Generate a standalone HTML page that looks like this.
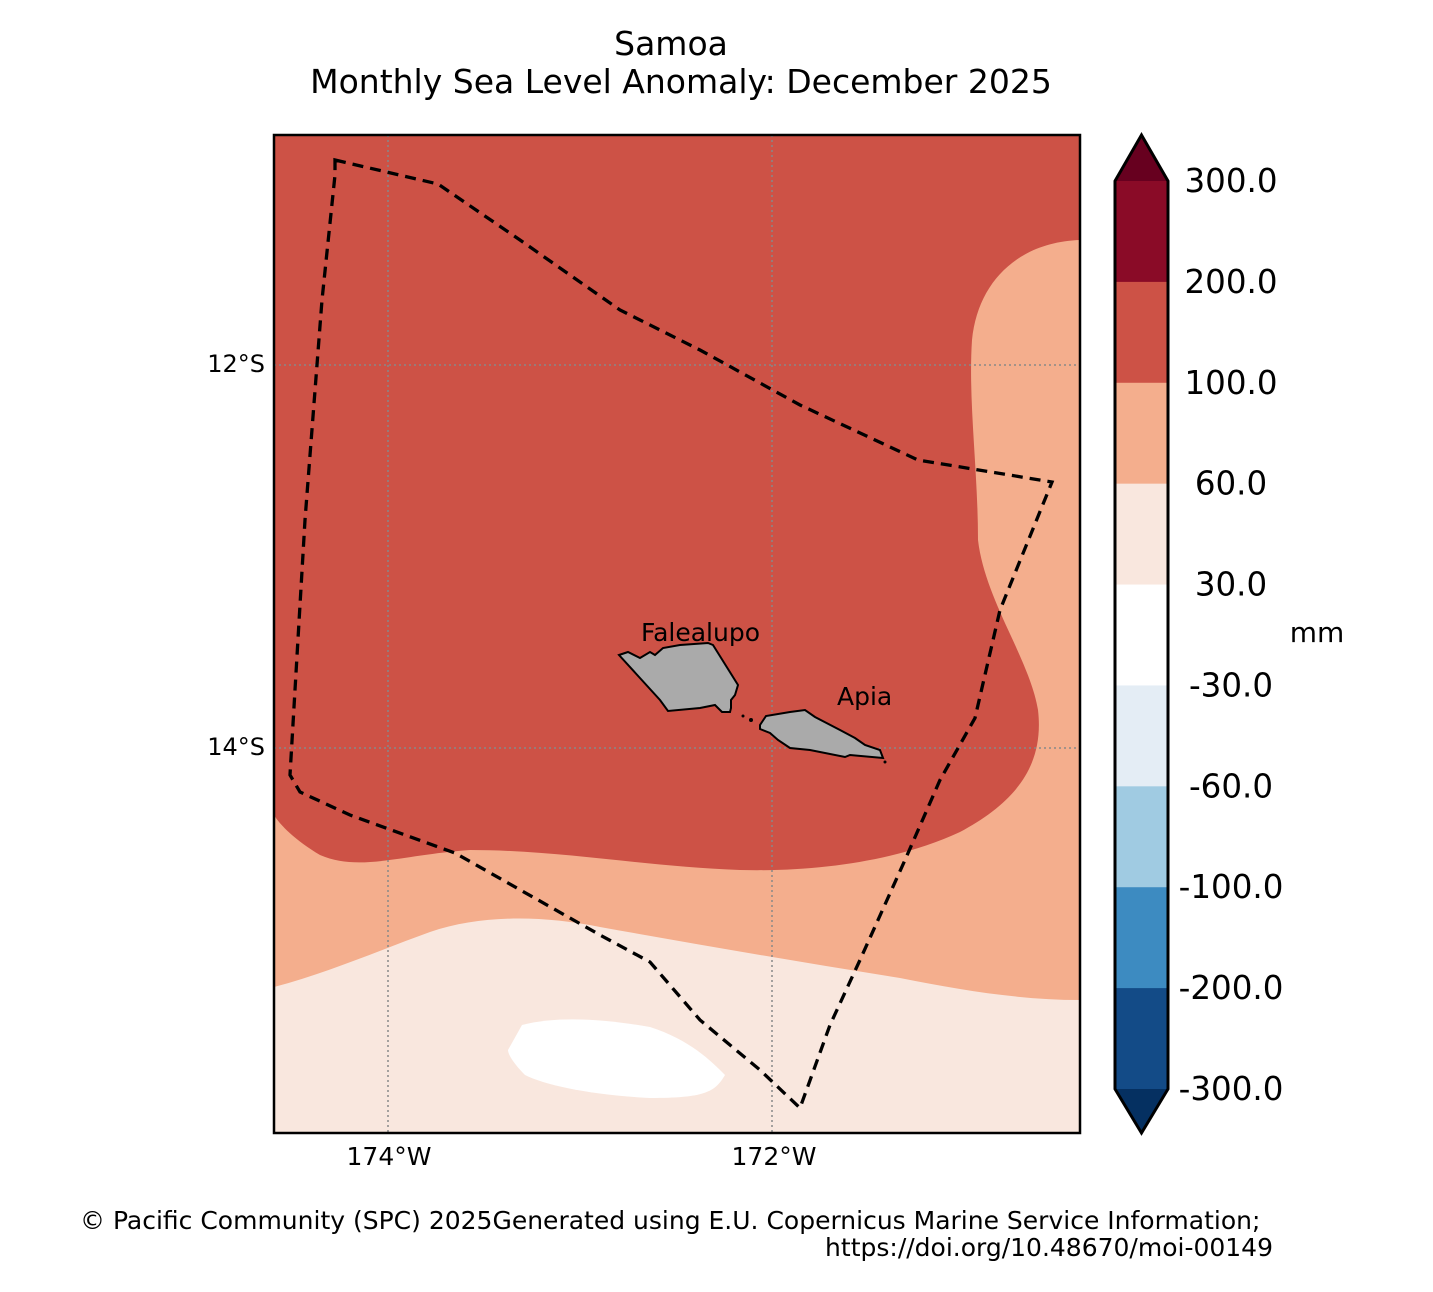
<!DOCTYPE html>
<html><head><meta charset="utf-8"><style>
body{margin:0;background:#fff;}
svg{display:block;font-family:"DejaVu Sans","Liberation Sans",sans-serif;}
</style></head><body>
<svg id="chart" width="1433" height="1292" viewBox="0 0 1433 1292">
<text x="671" y="55" font-size="33" text-anchor="middle">Samoa</text>
<text x="681" y="93" font-size="33" text-anchor="middle">Monthly Sea Level Anomaly: December 2025</text>
<defs><clipPath id="mapclip"><rect x="274" y="135" width="806" height="998"/></clipPath></defs>
<g clip-path="url(#mapclip)">
<rect x="274" y="135" width="806" height="998" fill="#cd5246"/>
<path fill="#f4ae8d" d="M1080,240 C1020,242 978,280 972,340 C968,400 978,470 978,540 C985,600 1030,660 1038,710 C1045,770 1010,805 960,832 C900,860 820,872 740,870 C640,866 560,850 470,850 C400,855 360,872 320,855 C295,840 280,825 274,815 L274,1133 L1080,1133 Z"/>
<path fill="#f9e7de" d="M274,987 C330,972 380,950 430,932 C480,915 540,915 600,927 C700,945 800,962 900,978 C960,990 1020,1000 1080,1000 L1080,1133 L274,1133 Z"/>
<path fill="#ffffff" d="M522,1025 C560,1015 610,1020 650,1027 C690,1040 710,1060 725,1075 C715,1092 705,1098 650,1098 C590,1095 545,1085 525,1075 C515,1065 508,1055 508,1050 Z"/>
<g stroke="#888" stroke-width="1.5" stroke-dasharray="2,3">
<line x1="388" y1="135" x2="388" y2="1133"/><line x1="772" y1="135" x2="772" y2="1133"/>
<line x1="274" y1="365" x2="1080" y2="365"/><line x1="274" y1="748" x2="1080" y2="748"/>
</g>
<path fill="none" stroke="#000" stroke-width="3.3" stroke-dasharray="11,7" d="M335,160 L438,184 L520,240 L620,310 L700,350 L800,405 L918,460 L1052,482 L1000,610 L975,718 L940,780 L905,860 L860,960 L830,1025 L800,1108 L760,1070 L700,1020 L650,962 L600,935 L455,853 L350,815 L300,792 L290,775 L305,520 L322,300 L335,175 Z"/>
<path fill="#aaaaaa" stroke="#000" stroke-width="2" d="M619,655 L628,652 L640,658 L650,652 L655,655 L663,648 L680,645 L708,643 L713,645 L738,685 L735,695 L731,700 L731,708 L730,712 L722,712 L715,705 L700,708 L668,711 L660,700 Z"/>
<path fill="#aaaaaa" stroke="#000" stroke-width="2" d="M760,725 L766,716 L790,712 L805,710 L815,717 L840,730 L855,738 L865,745 L880,750 L883,758 L850,755 L845,757 L810,750 L790,748 L778,740 L770,733 L760,729 Z"/>
<circle cx="743" cy="716" r="1.5" fill="#000"/><circle cx="751" cy="720" r="2" fill="#000"/><circle cx="885" cy="762" r="1.5" fill="#000"/>
</g>
<rect x="274" y="135" width="806" height="998" fill="none" stroke="#000" stroke-width="2.5"/>
<text x="641" y="641" font-size="25">Falealupo</text>
<text x="837" y="705" font-size="25">Apia</text>
<text x="265" y="372" font-size="24" text-anchor="end">12°S</text>
<text x="265" y="755" font-size="24" text-anchor="end">14°S</text>
<text x="389" y="1165" font-size="25" text-anchor="middle">174°W</text>
<text x="774" y="1165" font-size="25" text-anchor="middle">172°W</text>
<g id="cbar"></g>
<text x="1317" y="642" font-size="28" text-anchor="middle">mm</text>
<text x="80" y="1229" font-size="25">© Pacific Community (SPC) 2025Generated using E.U. Copernicus Marine Service Information;</text>
<text x="1273" y="1256" font-size="25" text-anchor="end">https://doi.org/10.48670/moi-00149</text>
</svg>
<script>
const levels=[300,200,100,60,30,-30,-60,-100,-200,-300];
const labels=["300.0","200.0","100.0","60.0","30.0","-30.0","-60.0","-100.0","-200.0","-300.0"];
const bandColors=["#8a0b27","#cd5246","#f4ae8d","#f9e7de","#ffffff","#e4edf5","#a0cbe2","#3d8bc1","#134b87"];
const extendColors=["#67001f","#053061"];
(function(){
const ns="http://www.w3.org/2000/svg";
const g=document.getElementById('cbar');
const x0=1115,x1=1168,yTop=181,yBot=1089;
const step=(yBot-yTop)/(levels.length-1);
function yIdx(i){return yTop+i*step;}
function mk(t,a){const e=document.createElementNS(ns,t);for(const k in a)e.setAttribute(k,a[k]);g.appendChild(e);return e;}
for(let i=0;i<bandColors.length;i++){
 const r=mk('rect',{x:x0,y:yIdx(i),width:x1-x0,height:step+0.5,fill:bandColors[i]});
 
 
}
const tp=mk('polygon',{points:`${x0},${yTop} ${(x0+x1)/2},135 ${x1},${yTop}`,fill:extendColors[0]});


const bp=mk('polygon',{points:`${x0},${yBot} ${(x0+x1)/2},1133 ${x1},${yBot}`,fill:extendColors[1]});


const ol=mk('polygon',{points:`${x0},${yTop} ${(x0+x1)/2},135 ${x1},${yTop} ${x1},${yBot} ${(x0+x1)/2},1133 ${x0},${yBot}`,fill:'none',stroke:'#000','stroke-width':3});


for(let i=0;i<labels.length;i++){
 const t=mk('text',{x:1231,y:yIdx(i)+11,'font-size':32.5,'text-anchor':'middle'});
 t.textContent=labels[i];
 
 
}
})();
</script>
</body></html>
